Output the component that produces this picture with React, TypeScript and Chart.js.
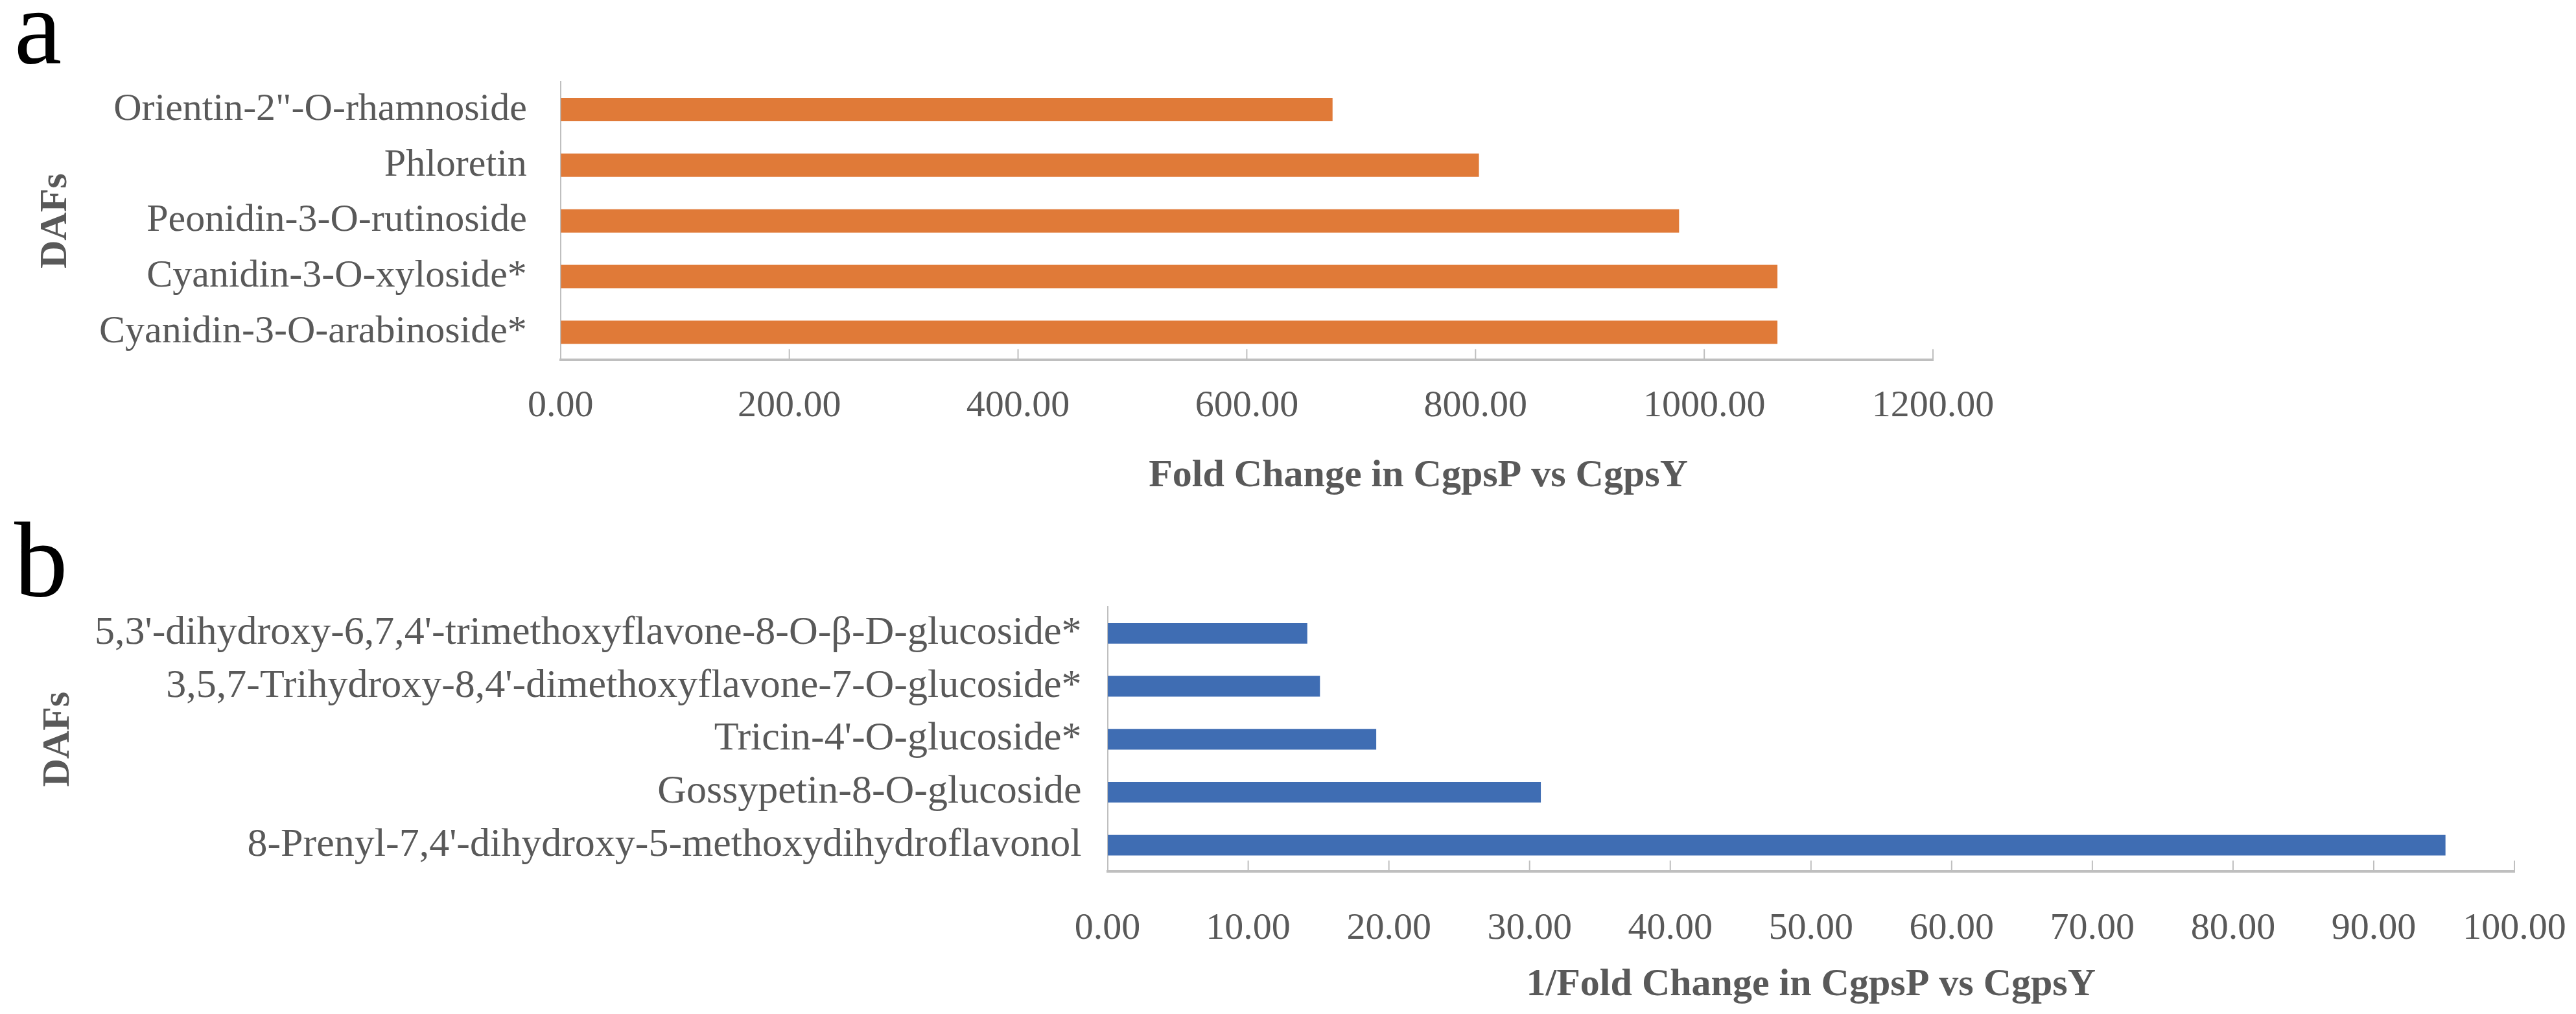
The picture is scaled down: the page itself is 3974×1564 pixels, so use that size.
import React, { useEffect, useRef } from 'react';
import { Chart, registerables } from 'chart.js';

Chart.register(...registerables);

const FONT = "'Liberation Serif', 'Times New Roman', serif";

// ---- Panel a data ----
const categoriesA = [
  'Orientin-2"-O-rhamnoside',
  'Phloretin',
  'Peonidin-3-O-rutinoside',
  'Cyanidin-3-O-xyloside*',
  'Cyanidin-3-O-arabinoside*',
];
const valuesA = [675, 803, 978, 1064, 1064];
const xMinA = 0;
const xMaxA = 1200;
const xStepA = 200;
const xTitleA = 'Fold Change in CgpsP vs CgpsY';

// ---- Panel b data ----
const categoriesB = [
  "5,3'-dihydroxy-6,7,4'-trimethoxyflavone-8-O-β-D-glucoside*",
  "3,5,7-Trihydroxy-8,4'-dimethoxyflavone-7-O-glucoside*",
  "Tricin-4'-O-glucoside*",
  'Gossypetin-8-O-glucoside',
  "8-Prenyl-7,4'-dihydroxy-5-methoxydihydroflavonol",
];
const valuesB = [14.2, 15.1, 19.1, 30.8, 95.1];
const xMinB = 0;
const xMaxB = 100;
const xStepB = 10;
const xTitleB = '1/Fold Change in CgpsP vs CgpsY';

const yTitle = 'DAFs';

const TEXT = '#595959';
const AXIS = '#BFBFBF';

const innerTicks = {
  id: 'innerTicks',
  afterDatasetsDraw(chart: any, _args: any, opts: any) {
    const x = chart.scales.x;
    const ctx = chart.ctx;
    const y0 = chart.chartArea.bottom;
    ctx.save();
    ctx.strokeStyle = opts.color;
    ctx.lineWidth = opts.width;
    x.ticks.forEach((t: any) => {
      if (t.value === x.min) return;
      const px = x.getPixelForValue(t.value);
      ctx.beginPath();
      ctx.moveTo(px, y0);
      ctx.lineTo(px, y0 - opts.length);
      ctx.stroke();
    });
    ctx.restore();
  },
};

const shiftedXTitle = {
  id: 'shiftedXTitle',
  afterDraw(chart: any, _args: any, opts: any) {
    const x = chart.scales.x;
    const ctx = chart.ctx;
    ctx.save();
    ctx.font = `bold ${opts.size}px ${FONT}`;
    ctx.fillStyle = opts.color;
    ctx.textAlign = 'center';
    ctx.textBaseline = 'middle';
    const cx = (x.left + x.right) / 2 + opts.shift * (x.right - x.left);
    const cy = x.bottom - opts.size * 1.2 / 2;
    ctx.fillText(opts.text, cx, cy);
    ctx.restore();
  },
};

function buildConfig(p: {
  labels: string[];
  values: number[];
  color: string;
  min: number;
  max: number;
  step: number;
  xTitle: string;
  titleShift: number;
  padding: any;
  yTickPad: number;
  yTickLen: number;
  yFontSize: number;
  xTickPad: number;
  xTickLen: number;
  barPct: number;
}): any {
  return {
    type: 'bar',
    data: {
      labels: p.labels,
      datasets: [
        {
          data: p.values,
          backgroundColor: p.color,
          borderWidth: 0,
          categoryPercentage: 1,
          barPercentage: p.barPct,
        },
      ],
    },
    options: {
      indexAxis: 'y',
      responsive: false,
      animation: false,
      devicePixelRatio: 1,
      layout: { padding: p.padding },
      plugins: {
        legend: { display: false },
        tooltip: { enabled: false },
        title: { display: false },
        innerTicks: { color: AXIS, width: 2, length: 17 },
        shiftedXTitle: { text: p.xTitle, size: 60, color: TEXT, shift: p.titleShift },
      },
      scales: {
        x: {
          type: 'linear',
          min: p.min,
          max: p.max,
          ticks: {
            stepSize: p.step,
            padding: p.xTickPad,
            color: TEXT,
            font: { family: FONT, size: 58 },
            callback: (v: any) => Number(v).toFixed(2),
            maxRotation: 0,
            autoSkip: false,
          },
          grid: {
            display: true,
            drawOnChartArea: false,
            drawTicks: true,
            tickLength: p.xTickLen,
            color: 'rgba(0,0,0,0)',
          },
          border: { display: true, color: AXIS, width: 4 },
          title: {
            display: true,
            text: p.xTitle,
            color: 'rgba(0,0,0,0)',
            font: { family: FONT, size: 60, weight: 'bold' },
            padding: { top: 0, bottom: 0 },
          },
        },
        y: {
          type: 'category',
          ticks: {
            padding: p.yTickPad,
            color: TEXT,
            font: { family: FONT, size: p.yFontSize },
            autoSkip: false,
          },
          grid: {
            display: true,
            drawOnChartArea: false,
            drawTicks: true,
            tickLength: p.yTickLen,
            color: 'rgba(0,0,0,0)',
          },
          border: { display: true, color: AXIS, width: 2 },
          title: {
            display: true,
            text: yTitle,
            color: TEXT,
            font: { family: FONT, size: 60, weight: 'bold' },
            padding: { top: 0, bottom: 0 },
          },
        },
      },
    },
    plugins: [innerTicks, shiftedXTitle],
  };
}

const W = 3974;
const HA = 790;
const HB = 1564 - 790;

export default function App() {
  const refA = useRef<HTMLCanvasElement | null>(null);
  const refB = useRef<HTMLCanvasElement | null>(null);

  useEffect(() => {
    document.body.style.margin = '0';
    document.body.style.background = '#ffffff';
    const a = new Chart(
      refA.current as HTMLCanvasElement,
      buildConfig({
        labels: categoriesA,
        values: valuesA,
        color: '#E07A38',
        min: xMinA,
        max: xMaxA,
        step: xStepA,
        xTitle: xTitleA,
        titleShift: 0.125,
        padding: { left: 50, top: 126, right: W - 2982, bottom: 20 },
        yTickPad: 31,
        yTickLen: 21,
        yFontSize: 60,
        xTickPad: 36,
        xTickLen: 1,
        barPct: 0.42,
      })
    );
    const b = new Chart(
      refB.current as HTMLCanvasElement,
      buildConfig({
        labels: categoriesB,
        values: valuesB,
        color: '#3F6DB3',
        min: xMinB,
        max: xMaxB,
        step: xStepB,
        xTitle: xTitleB,
        titleShift: 0,
        padding: { left: 54, top: 146, right: W - 3879, bottom: 9 },
        yTickPad: 20,
        yTickLen: 20,
        yFontSize: 62,
        xTickPad: 15,
        xTickLen: 39,
        barPct: 0.39,
      })
    );
    return () => {
      a.destroy();
      b.destroy();
    };
  }, []);

  const letter: React.CSSProperties = {
    position: 'absolute',
    left: 22,
    fontFamily: FONT,
    fontSize: 165,
    lineHeight: '165px',
    color: '#000',
    margin: 0,
  };

  return (
    <div style={{ position: 'absolute', left: 0, top: 0, width: W, height: 1564, background: '#fff', overflow: 'hidden' }}>
      <canvas ref={refA} width={W} height={HA} style={{ position: 'absolute', left: 0, top: 0, width: W, height: HA }} />
      <canvas ref={refB} width={W} height={HB} style={{ position: 'absolute', left: 0, top: HA, width: W, height: HB }} />
      <div style={{ ...letter, top: -41 }}>a</div>
      <div style={{ ...letter, top: 781 }}>b</div>
    </div>
  );
}
